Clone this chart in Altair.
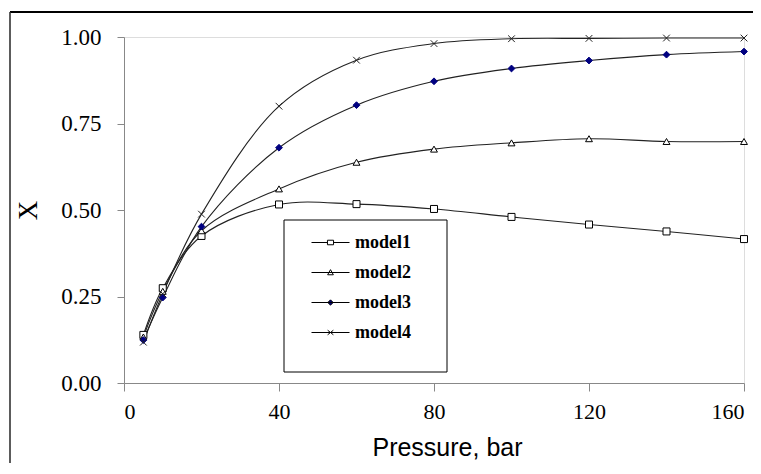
import altair as alt
import pandas as pd

pressure = [5, 10, 20, 40, 60, 80, 100, 120, 140, 160]
model1 = [0.139, 0.274, 0.425, 0.516, 0.517, 0.503, 0.480, 0.458, 0.438, 0.416]
model2 = [0.133, 0.265, 0.440, 0.561, 0.638, 0.676, 0.694, 0.706, 0.698, 0.698]
model3 = [0.124, 0.247, 0.452, 0.680, 0.803, 0.872, 0.909, 0.932, 0.949, 0.958]
model4 = [0.118, 0.258, 0.488, 0.800, 0.933, 0.981, 0.995, 0.996, 0.997, 0.997]
models = ["model1", "model2", "model3", "model4"]
x_ticks = [0, 40, 80, 120, 160]
y_ticks = [0, 0.25, 0.5, 0.75, 1.0]

rows = []
for name, vals in zip(models, [model1, model2, model3, model4]):
    for p, v in zip(pressure, vals):
        rows.append({"pressure": p, "X": v, "model": name})
df = pd.DataFrame(rows)

W, H = 620, 346

xenc = alt.X("pressure:Q",
             scale=alt.Scale(domain=[0, 160], nice=False, zero=False),
             axis=alt.Axis(values=x_ticks, format="d", title="Pressure, bar", grid=False,
                           labelFont="Liberation Serif", labelFontSize=22,
                           labelPadding=10, tickSize=8,
                           titleFont="Liberation Sans", titleFontSize=25,
                           titleFontWeight="normal", titleX=323, titlePadding=13))
yenc = alt.Y("X:Q",
             scale=alt.Scale(domain=[0, 1], nice=False),
             axis=alt.Axis(values=y_ticks, format=".2f", title="X", grid=False,
                           labelFont="Liberation Serif", labelFontSize=23,
                           labelPadding=16, tickSize=7,
                           titleFont="Liberation Serif", titleFontSize=27,
                           titleFontWeight="normal", titlePadding=18))

point_shapes = ["square", "triangle-up", "diamond", "M-1,-1L1,1M-1,1L1,-1"]
point_sizes = [49, 45, 30, 49]
point_fills = ["white", "white", "#000080", "transparent"]
point_strokes = ["black", "black", "#000080", "#222222"]

legend_paths = [
    "M-1,0H-0.16M0.16,0H1M-0.16,-0.12H0.16V0.12H-0.16Z",
    "M-1,0H1M-0.15,0.12L0,-0.15L0.15,0.12Z",
    "M-1,0H1M0,-0.14L0.14,0L0,0.14L-0.14,0Z",
    "M-1,0H1M-0.15,-0.12L0.15,0.12M-0.15,0.12L0.15,-0.12",
]
legend_fills = ["white", "white", "#000080", "transparent"]
legend_strokes = ["black", "black", "black", "black"]

base = alt.Chart(df)

lines = base.mark_line(interpolate="catmull-rom", color="#222222", strokeWidth=1.1).encode(
    x=xenc, y=yenc, detail="model:N"
)

points = base.mark_point(filled=True, strokeWidth=1, opacity=1).encode(
    x=xenc, y=yenc,
    shape=alt.Shape("model:N", scale=alt.Scale(domain=models, range=point_shapes), legend=None),
    fill=alt.Fill("model:N", scale=alt.Scale(domain=models, range=point_fills), legend=None),
    stroke=alt.Stroke("model:N", scale=alt.Scale(domain=models, range=point_strokes), legend=None),
    size=alt.Size("model:N", scale=alt.Scale(domain=models, range=point_sizes), legend=None),
)

leg = alt.Legend(
    title=None, orient="none", legendX=187, legendY=186, padding=0,
    labelFont="Liberation Serif", labelFontWeight="bold", labelFontSize=18,
    labelColor="black", labelOffset=5, rowPadding=1,
    symbolSize=1444, symbolStrokeWidth=1, symbolStrokeColor="black",
)

legend_layer = base.transform_filter("false").mark_point(
    filled=True, strokeWidth=1, opacity=1, size=1444
).encode(
    x=alt.X("pressure:Q"), y=alt.Y("X:Q"),
    shape=alt.Shape("model:N", scale=alt.Scale(domain=models, range=legend_paths), legend=leg),
    fill=alt.Fill("model:N", scale=alt.Scale(domain=models, range=legend_fills), legend=leg),
    stroke=alt.Stroke("model:N", scale=alt.Scale(domain=models, range=legend_strokes), legend=leg),
)

legend_box = alt.Chart(alt.Data(values=[{}])).mark_rect(
    fill="transparent", stroke="black", strokeWidth=1
).encode(
    x=alt.value(160), x2=alt.value(323), y=alt.value(183), y2=alt.value(335)
)

frame_top = alt.Chart(alt.Data(values=[{"k": 1}])).mark_rule(color="black", strokeWidth=2).encode(
    x=alt.value(-114), x2=alt.value(660), y=alt.value(-25)
)
frame_left = alt.Chart(alt.Data(values=[{"k": 2}])).mark_rule(color="#333333", strokeWidth=1.6).encode(
    x=alt.value(-114), y=alt.value(-25), y2=alt.value(460)
)

chart = alt.layer(frame_top, frame_left, lines, points, legend_layer, legend_box).resolve_scale(
    shape="independent", fill="independent", stroke="independent", size="independent"
).properties(
    width=W, height=H,
    autosize=alt.AutoSizeParams(type="none"),
    padding={"left": 116, "top": 29, "right": 9, "bottom": 80},
).configure_view(
    stroke="black", strokeWidth=1
).configure_axis(
    grid=False, domainColor="black", tickColor="black", labelColor="black",
    titleColor="black", domainWidth=1, tickWidth=1
).configure(background="white")

chart.save("out.html", embed_options={"renderer": "svg", "actions": False})
